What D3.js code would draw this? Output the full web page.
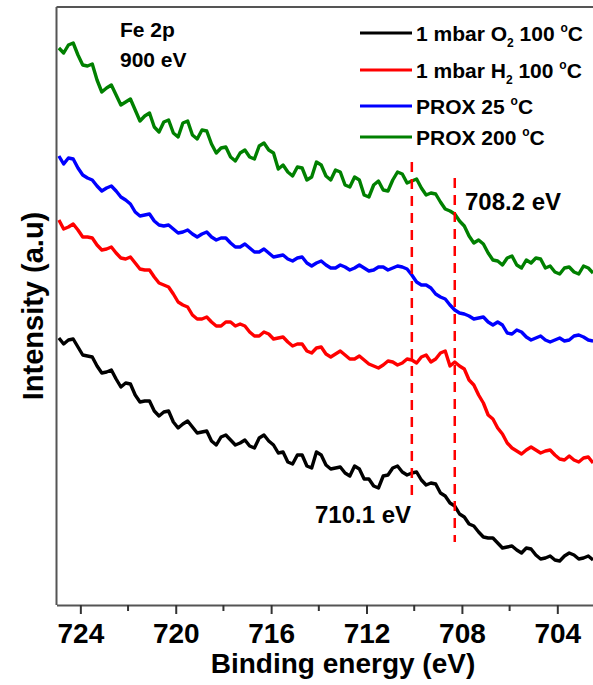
<!DOCTYPE html>
<html>
<head>
<meta charset="utf-8">
<script src="https://cdn.jsdelivr.net/npm/d3@7"></script>
<style>
  html, body { margin: 0; padding: 0; background: #fff; }
  svg { display: block; font-family: "Liberation Sans", Arial, sans-serif; }
</style>
</head>
<body>
<div id="chart"></div>
<script>
// binding energy grid (eV), 0.2 eV step from 724.9 down to 702.5
const energy = d3.range(0, 113).map((i) => +(724.9 - 0.2 * i).toFixed(1))

// intensities (a.u.), offset stacked as in the original
const o2_100 = [267, 261, 265, 266, 258, 250, 249, 248, 239, 232, 233, 235, 226, 218, 222, 221, 210, 203, 204, 204,
  194, 189, 193, 194, 183, 177, 181, 184, 178, 172, 173, 174, 164, 160, 168, 170, 165, 160, 162, 165,
  159, 157, 167, 170, 164, 160, 152, 153, 143, 141, 150, 150, 139, 137, 153, 150, 140, 136, 137, 138,
  132, 129, 139, 136, 126, 126, 119, 117, 129, 130, 137, 139, 133, 130, 132, 133, 125, 120, 122, 121,
  112, 109, 102, 99, 91, 88, 81, 79, 73, 68, 67, 67, 62, 57, 58, 59, 55, 52, 57, 56,
  50, 46, 47, 49, 45, 44, 49, 52, 50, 46, 47, 49, 45]
const h2_100 = [385, 376, 378, 381, 375, 368, 368, 367, 360, 355, 356, 358, 352, 347, 346, 348, 342, 336, 335, 335,
  328, 322, 320, 318, 311, 303, 300, 298, 290, 286, 286, 288, 283, 279, 279, 283, 283, 279, 281, 279,
  273, 269, 269, 273, 271, 266, 267, 268, 263, 259, 261, 261, 254, 252, 257, 258, 251, 248, 251, 254,
  250, 246, 246, 249, 245, 241, 239, 237, 240, 244, 243, 240, 242, 246, 245, 242, 248, 250, 243, 246,
  252, 254, 239, 243, 239, 236, 225, 220, 210, 202, 190, 186, 177, 171, 162, 157, 154, 151, 155, 158,
  155, 152, 154, 155, 150, 146, 145, 149, 145, 143, 147, 148, 142]
const prox_25 = [449, 441, 447, 446, 437, 430, 427, 425, 419, 414, 417, 419, 414, 408, 405, 401, 393, 389, 390, 391,
  384, 380, 379, 380, 376, 372, 373, 375, 371, 368, 371, 373, 368, 365, 367, 367, 362, 358, 358, 361,
  357, 353, 353, 356, 352, 348, 349, 350, 346, 344, 347, 348, 342, 339, 342, 344, 340, 337, 337, 340,
  338, 335, 337, 340, 337, 334, 335, 338, 338, 335, 337, 339, 338, 336, 330, 323, 320, 320, 317, 311,
  308, 306, 300, 295, 292, 291, 289, 286, 287, 288, 283, 280, 283, 280, 272, 271, 275, 273, 268, 265,
  267, 269, 265, 263, 265, 267, 264, 265, 269, 270, 268, 265, 264]
const prox_200 = [557, 552, 560, 562, 550, 540, 539, 541, 525, 513, 517, 520, 510, 500, 503, 506, 495, 484, 489, 492,
  478, 473, 483, 485, 472, 468, 482, 484, 470, 466, 475, 474, 461, 452, 457, 458, 448, 444, 452, 455,
  448, 446, 459, 462, 455, 452, 436, 440, 433, 429, 438, 437, 425, 428, 443, 440, 429, 425, 435, 433,
  420, 418, 428, 425, 410, 408, 420, 424, 415, 414, 425, 433, 431, 422, 424, 426, 417, 410, 412, 411,
  403, 396, 394, 391, 384, 379, 369, 362, 365, 361, 352, 345, 344, 340, 347, 349, 340, 337, 345, 342,
  347, 346, 337, 339, 333, 331, 337, 338, 333, 331, 339, 337, 332]

const seriesNames = ["1 mbar O2 100 °C", "1 mbar H2 100 °C", "PROX 25 °C", "PROX 200 °C"]
const seriesColors = ["#000000", "#ff0000", "#0000ff", "#008000"]
const seriesValues = [o2_100, h2_100, prox_25, prox_200]

const xTicks = [724, 720, 716, 712, 708, 704]
const xMinorTicks = [722, 718, 714, 710, 706, 702]

// marker lines: energy and the intensity span they cover
const markers = [
  { e: 710.1, from: 105, to: 443 },
  { e: 708.3, from: 63, to: 427 }
]

const width = 593
const height = 685
const plot = { left: 56.5, right: 605, top: 7, bottom: 605 }

const svg = d3
  .select("#chart")
  .append("svg")
  .attr("width", width)
  .attr("height", height)

const x = d3.scaleLinear().domain([725, 702]).range([plot.left, plot.right])
const y = d3.scaleLinear().domain([0, 598]).range([plot.bottom, plot.top])

svg
  .append("clipPath")
  .attr("id", "plot-clip")
  .append("rect")
  .attr("x", plot.left)
  .attr("y", plot.top)
  .attr("width", plot.right - plot.left)
  .attr("height", plot.bottom - plot.top)

const line = d3
  .line()
  .x((d) => x(d[0]))
  .y((d) => y(d[1]))

const curves = svg.append("g").attr("clip-path", "url(#plot-clip)")

seriesValues.forEach(function (vals, i) {
  curves
    .append("path")
    .datum(energy.map((e, j) => [e, vals[j]]))
    .attr("d", line)
    .attr("fill", "none")
    .attr("stroke", seriesColors[i])
    .attr("stroke-width", 3.4)
    .attr("stroke-linejoin", "round")
})

// red dashed guides
svg
  .selectAll(".marker")
  .data(markers)
  .join("line")
  .attr("class", "marker")
  .attr("x1", (d) => x(d.e))
  .attr("x2", (d) => x(d.e))
  .attr("y1", (d) => y(d.to))
  .attr("y2", (d) => y(d.from))
  .attr("stroke", "#ff0000")
  .attr("stroke-width", 2.5)
  .attr("stroke-dasharray", "10,7")

// frame: top and left
svg
  .append("line")
  .attr("x1", plot.left)
  .attr("x2", plot.right)
  .attr("y1", plot.top)
  .attr("y2", plot.top)
  .attr("stroke", "#555")
  .attr("stroke-width", 2)
svg
  .append("line")
  .attr("x1", plot.left)
  .attr("x2", plot.left)
  .attr("y1", plot.top)
  .attr("y2", plot.bottom)
  .attr("stroke", "#555")
  .attr("stroke-width", 2)

// bottom axis
const xAxis = svg
  .append("g")
  .attr("transform", `translate(0,${plot.bottom})`)
  .call(d3.axisBottom(x).tickValues(xTicks).tickSize(9).tickPadding(9).tickSizeOuter(0).tickFormat(d3.format("d")))

xAxis.select(".domain").attr("stroke", "#555").attr("stroke-width", 2)
xAxis.selectAll(".tick line").attr("stroke", "#333").attr("stroke-width", 2)
xAxis
  .selectAll(".tick text")
  .attr("fill", "#000")
  .style("font-size", "28px")
  .style("font-weight", "bold")
  .style("font-family", "'Liberation Sans', Arial, sans-serif")

svg
  .append("g")
  .selectAll("line")
  .data(xMinorTicks)
  .join("line")
  .attr("x1", (d) => x(d))
  .attr("x2", (d) => x(d))
  .attr("y1", plot.bottom)
  .attr("y2", plot.bottom + 6)
  .attr("stroke", "#333")
  .attr("stroke-width", 2)

// axis titles
svg
  .append("text")
  .attr("x", 343)
  .attr("y", 673)
  .attr("text-anchor", "middle")
  .style("font-size", "28px")
  .style("font-weight", "bold")
  .text("Binding energy (eV)")

svg
  .append("text")
  .attr("transform", "translate(43,306) rotate(-90)")
  .attr("text-anchor", "middle")
  .style("font-size", "29px")
  .style("font-weight", "bold")
  .text("Intensity (a.u)")

// panel labels
svg.append("text").attr("x", 120).attr("y", 37).style("font-size", "21px").style("font-weight", "bold").text("Fe 2p")
svg.append("text").attr("x", 120).attr("y", 67).style("font-size", "21px").style("font-weight", "bold").text("900 eV")

svg
  .append("text")
  .attr("x", 465)
  .attr("y", 210)
  .style("font-size", "24px")
  .style("font-weight", "bold")
  .text("708.2 eV")

svg
  .append("text")
  .attr("x", 315)
  .attr("y", 523)
  .style("font-size", "24px")
  .style("font-weight", "bold")
  .text("710.1 eV")

// legend
const legendRows = [33, 70, 106, 137]
const legend = svg.append("g")

seriesNames.forEach(function (name, i) {
  const ly = legendRows[i]
  legend
    .append("line")
    .attr("x1", 360)
    .attr("x2", 412)
    .attr("y1", ly)
    .attr("y2", ly)
    .attr("stroke", seriesColors[i])
    .attr("stroke-width", 3.2)

  const t = legend
    .append("text")
    .attr("x", 416)
    .attr("y", ly + 8)
    .style("font-size", "21px")
    .style("font-weight", "bold")

  // split "O2"/"H2" subscript and the degree sign
  const m = name.match(/^(.*?[OH])2( 100 )°C$/)
  if (m) {
    t.append("tspan").text(m[1])
    t.append("tspan").attr("dy", 6).style("font-size", "12px").text("2")
    t.append("tspan").attr("dy", -6).text(m[2])
  } else {
    t.append("tspan").text(name.replace(" °C", " "))
  }
  t.append("tspan").attr("dy", -9).style("font-size", "12px").text("o")
  t.append("tspan").attr("dy", 9).text("C")
})
</script>
</body>
</html>
